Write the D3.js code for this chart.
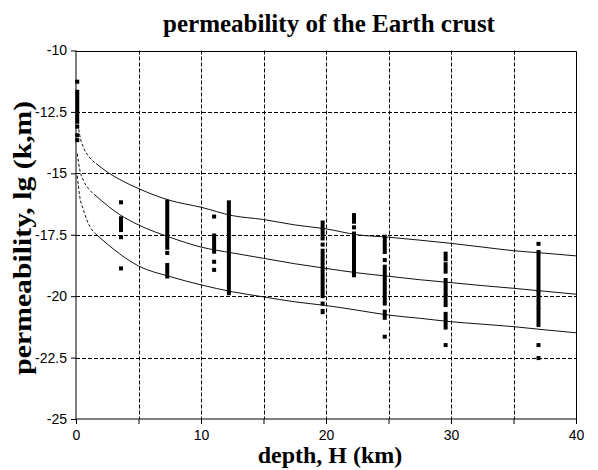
<!DOCTYPE html>
<html>
<head>
<meta charset="utf-8">
<script src="https://cdn.jsdelivr.net/npm/d3@7"></script>
<style>
  body { margin: 0; background: #fff; }
</style>
</head>
<body>
<div id="chart"></div>
<script>
// axis ticks
const depthTicks = [0, 5, 10, 15, 20, 25, 30, 35, 40];
const permTicks = [-10, -12.5, -15, -17.5, -20, -22.5, -25];

// measured permeability, one column per site depth; each entry is [top, bottom] of a run of points
const siteDepths = [0.1, 3.6, 7.3, 11.05, 12.23, 19.73, 22.24, 24.7, 29.57, 37.0];
const siteRuns = [
    [[-11.27, -11.27], [-11.68, -12.9], [-13.1, -13.1], [-13.45, -13.45], [-13.65, -13.65]],
    [[-16.18, -16.18], [-16.83, -17.31], [-17.6, -17.6], [-18.87, -18.87]],
    [[-16.15, -17.58], [-17.7, -18.03], [-18.24, -18.24], [-18.73, -19.2]],
    [[-16.76, -16.76], [-17.53, -18.19], [-18.6, -18.6], [-18.93, -18.93]],
    [[-16.18, -19.88]],
    [[-17.0, -17.5], [-17.65, -17.65], [-17.9, -17.9], [-18.15, -20.0], [-20.3, -20.3], [-20.6, -20.65]],
    [[-16.7, -16.97], [-17.2, -17.2], [-17.45, -19.15]],
    [[-17.58, -18.2], [-18.53, -18.53], [-18.8, -20.3], [-20.63, -20.88], [-21.65, -21.65]],
    [[-18.27, -18.5], [-18.7, -19.0], [-19.34, -19.9], [-20.01, -20.36], [-20.72, -21.28], [-21.99, -21.99]],
    [[-17.87, -17.87], [-18.2, -19.75], [-19.88, -20.43], [-20.56, -21.17], [-21.99, -21.99], [-22.52, -22.52]]
];

// model curves (upper, middle, lower), read at these depths
const curveDepths = [0.1, 0.3, 0.6, 1.0, 1.6, 2.6, 3.5, 5, 7.5, 10, 12.5, 15, 17.5, 20, 22.5, 25, 27.5, 30, 32.5, 35, 37.5, 40];
const upperCurve  = [-12.8, -13.45, -13.95, -14.3, -14.6, -14.98, -15.25, -15.62, -16.1, -16.38, -16.72, -16.88, -17.1, -17.26, -17.5, -17.6, -17.72, -17.85, -18.0, -18.15, -18.25, -18.36];
const middleCurve = [-14.2, -14.85, -15.3, -15.62, -15.92, -16.35, -16.68, -17.1, -17.6, -18.0, -18.24, -18.46, -18.68, -18.87, -19.05, -19.19, -19.33, -19.45, -19.57, -19.68, -19.8, -19.92];
const lowerCurve  = [-15.1, -15.95, -16.5, -17.05, -17.48, -17.92, -18.28, -18.77, -19.2, -19.54, -19.82, -20.03, -20.23, -20.38, -20.57, -20.77, -20.9, -21.04, -21.14, -21.24, -21.37, -21.49];
const dashedUntil = 1.6;

const width = 598, height = 470;
const margin = {top: 50.5, right: 22, bottom: 51, left: 76};

const svg = d3.select("#chart").append("svg")
    .attr("width", width)
    .attr("height", height);

const x = d3.scaleLinear()
    .domain([0, 40])
    .range([margin.left, width - margin.right]);
const y = d3.scaleLinear()
    .domain([-25, -10])
    .range([height - margin.bottom, margin.top]);

// dashed grid
const grid = svg.append("g")
    .attr("stroke", "#000")
    .attr("stroke-width", 1)
    .attr("stroke-dasharray", "4,2");
grid.selectAll("line.gx")
    .data(depthTicks.slice(1, -1))
    .join("line")
    .attr("class", "gx")
    .attr("x1", d => Math.round(x(d)) + 0.5)
    .attr("x2", d => Math.round(x(d)) + 0.5)
    .attr("y1", y(-10))
    .attr("y2", y(-25));
grid.selectAll("line.gy")
    .data(permTicks.slice(1, -1))
    .join("line")
    .attr("class", "gy")
    .attr("x1", x(0))
    .attr("x2", x(40))
    .attr("y1", d => Math.round(y(d)) + 0.5)
    .attr("y2", d => Math.round(y(d)) + 0.5);

// axes
const fontTicks = "'Liberation Sans', Arial, sans-serif";
const yAxis = svg.append("g")
    .attr("transform", "translate(" + Math.round(x(0)) + ",0)")
    .call(d3.axisLeft(y).tickValues(permTicks).tickSize(5).tickPadding(4).tickFormat(d => String(d)));
const xAxis = svg.append("g")
    .attr("transform", "translate(0," + Math.round(y(-25)) + ")")
    .call(d3.axisBottom(x).tickValues(depthTicks).tickSize(5).tickPadding(6)
        .tickFormat(d => d % 10 === 0 ? String(d) : ""));
[xAxis, yAxis].forEach(a => {
    a.attr("font-family", fontTicks).attr("font-size", 14);
    a.selectAll("text").attr("fill", "#000");
    a.selectAll("line, path").attr("stroke", "#000");
});
yAxis.select(".domain").attr("d", "M0," + y(-10) + "V" + y(-25));
xAxis.select(".domain").attr("d", "M" + x(0) + ",0H" + x(40));

// top and right frame
svg.append("path")
    .attr("fill", "none")
    .attr("stroke", "#000")
    .attr("d", "M" + Math.round(x(0)) + "," + (Math.round(y(-10)) + 0.5) + "H" + (Math.round(x(40)) + 0.5) + "V" + Math.round(y(-25)));

// model curves
svg.append("clipPath").attr("id", "plot-clip")
    .append("rect")
    .attr("x", x(0)).attr("y", y(-10))
    .attr("width", x(40) - x(0)).attr("height", y(-25) - y(-10));

const line = d3.line()
    .x(d => x(d[0]))
    .y(d => y(d[1]))
    .curve(d3.curveMonotoneX);

const curves = svg.append("g").attr("clip-path", "url(#plot-clip)");
[upperCurve, middleCurve, lowerCurve].forEach(vals => {
    const pts = curveDepths.map((d, i) => [d, vals[i]]);
    curves.append("path")
        .attr("fill", "none")
        .attr("stroke", "#111")
        .attr("stroke-width", 1)
        .attr("stroke-dasharray", "3,2")
        .attr("d", line(pts.filter(p => p[0] <= dashedUntil)));
    curves.append("path")
        .attr("fill", "none")
        .attr("stroke", "#111")
        .attr("stroke-width", 1)
        .attr("d", line(pts.filter(p => p[0] >= dashedUntil)));
});

// measured points
const marks = svg.append("g").attr("fill", "#000");
siteDepths.forEach((depth, i) => {
    marks.selectAll(null)
        .data(siteRuns[i])
        .join("rect")
        .attr("x", x(depth) - 2)
        .attr("y", d => y(d[0]) - 2)
        .attr("width", 4)
        .attr("height", d => y(d[1]) - y(d[0]) + 4);
});

// titles
const fontTitle = "'Liberation Serif', 'Times New Roman', serif";
svg.append("text")
    .attr("x", (x(0) + x(40)) / 2 + 3)
    .attr("y", 32)
    .attr("text-anchor", "middle")
    .attr("font-family", fontTitle)
    .attr("font-weight", "bold")
    .attr("font-size", 25)
    .text("permeability of the Earth crust");

svg.append("text")
    .attr("x", (x(0) + x(40)) / 2 + 4)
    .attr("y", 463)
    .attr("text-anchor", "middle")
    .attr("font-family", fontTitle)
    .attr("font-weight", "bold")
    .attr("font-size", 24)
    .text("depth, H (km)");

svg.append("text")
    .attr("transform", "translate(31," + ((y(-10) + y(-25)) / 2 + 3) + ") rotate(-90)")
    .attr("text-anchor", "middle")
    .attr("font-family", fontTitle)
    .attr("font-weight", "bold")
    .attr("font-size", 26)
    .attr("textLength", 274)
    .attr("lengthAdjust", "spacingAndGlyphs")
    .text("permeability, lg (k,m)");
</script>
</body>
</html>
